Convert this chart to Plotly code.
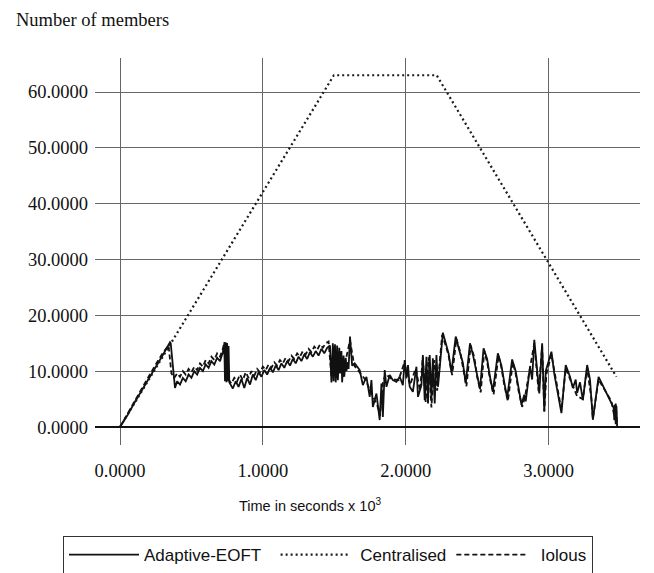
import plotly.graph_objects as go

# ---- data (time in seconds x 10^3, number of members) ----
central_x = [0.0, 1.497, 2.217, 3.475]
central_y = [0.0, 63.0, 63.0, 9.0]

eoft_x = [0.0, 0.05, 0.1, 0.15, 0.2, 0.25, 0.3, 0.35,
          0.355, 0.385, 0.40, 0.42, 0.44, 0.46, 0.48, 0.50, 0.52, 0.54, 0.56, 0.58, 0.60, 0.62, 0.64, 0.66, 0.68, 0.70, 0.72, 0.73,
          0.735, 0.74, 0.745, 0.75, 0.755, 0.76, 0.765,
          0.79, 0.81, 0.83, 0.85, 0.87, 0.89, 0.91, 0.93, 0.95, 0.97, 0.99, 1.01, 1.03, 1.05, 1.07, 1.09, 1.11, 1.13, 1.15,
          1.17, 1.19, 1.21, 1.23, 1.25, 1.27, 1.29, 1.31, 1.33, 1.35, 1.37, 1.39, 1.41, 1.43, 1.45, 1.47,
          1.48, 1.49, 1.495, 1.505, 1.51, 1.52, 1.525, 1.535, 1.54, 1.55, 1.555, 1.565, 1.57, 1.58, 1.585, 1.595, 1.60, 1.61, 1.625,
          1.643, 1.678, 1.70, 1.725, 1.748, 1.76, 1.77, 1.795, 1.818, 1.83, 1.84, 1.853, 1.865, 1.888, 1.91, 1.935, 1.958, 1.98,
          1.993, 2.005, 2.016, 2.028, 2.05, 2.075, 2.086, 2.11, 2.12, 2.133, 2.145, 2.156, 2.168, 2.18, 2.19, 2.203, 2.215, 2.226,
          2.26, 2.28, 2.30, 2.32, 2.35, 2.37, 2.40, 2.42, 2.45, 2.47, 2.50, 2.52, 2.545, 2.57, 2.59, 2.61, 2.645, 2.67, 2.69, 2.71,
          2.745, 2.77, 2.79, 2.81, 2.83, 2.84, 2.87, 2.885, 2.90, 2.92, 2.935, 2.955, 2.965, 2.97, 2.98, 3.02, 3.04, 3.06, 3.09,
          3.12, 3.15, 3.17, 3.19, 3.20, 3.22, 3.24, 3.27, 3.29, 3.31, 3.35, 3.39, 3.43, 3.455, 3.46, 3.465, 3.47, 3.475, 3.48]
eoft_y = [0.0, 2.0, 4.3, 6.4, 8.6, 10.7, 12.9, 15.2,
          15.0, 7.0, 8.2, 7.6, 8.8, 8.2, 9.4, 8.8, 10.0, 9.4, 10.6, 10.0, 11.2, 10.6, 11.8, 11.2, 12.4, 11.8, 13.4, 14.8,
          8.2, 15.2, 8.0, 15.0, 8.2, 14.5, 8.0,
          6.9, 8.2, 7.2, 8.6, 7.0, 8.8, 7.6, 9.4, 8.4, 9.8, 9.0, 10.2, 9.4, 10.6, 9.8, 11.0, 10.2, 11.4, 10.6,
          11.8, 11.0, 12.2, 11.4, 12.6, 11.8, 13.0, 12.2, 13.4, 12.6, 13.6, 12.8, 14.0, 13.2, 14.2, 14.6,
          8.0, 15.0, 8.2, 14.8, 8.0, 14.6, 8.4, 14.2, 9.6, 13.6, 8.0, 12.8, 9.0, 12.4, 10.0, 11.6, 10.4, 16.2, 11.0,
          11.4, 10.2, 7.5, 9.0, 5.4, 8.4, 3.6, 6.0, 1.25, 7.8, 1.8, 10.2, 7.2, 9.3, 8.4, 8.1, 9.0, 7.5,
          12.0, 8.7, 11.1, 7.2, 6.3, 10.8, 5.4, 7.5, 12.9, 4.8, 12.6, 4.2, 12.9, 5.1, 12.3, 4.2, 12.9, 7.2,
          16.9, 15.0, 13.2, 9.8, 16.2, 14.2, 11.5, 7.8, 15.0, 13.0, 9.5, 6.8, 14.1, 12.2, 9.0, 6.4, 13.2, 11.0, 8.0, 5.2,
          12.1, 10.0, 7.0, 4.0, 5.8, 4.6, 10.8, 8.5, 15.6, 10.5, 6.0, 15.0, 6.0, 2.8, 10.0, 13.5, 9.5, 6.5, 2.5,
          11.1, 9.0, 7.0, 8.5, 6.1, 8.0, 4.8, 11.1, 8.5, 1.3, 9.0, 7.0, 5.0, 3.5, 1.2, 4.0, 0.5, 3.8, 0.0]

iolous_x = [0.0, 0.05, 0.1, 0.15, 0.2, 0.25, 0.3, 0.34, 0.36,
            0.38, 0.40, 0.42, 0.44, 0.46, 0.48, 0.50, 0.52, 0.54, 0.56, 0.58, 0.60, 0.62, 0.64, 0.66, 0.68, 0.70, 0.72, 0.73,
            0.74, 0.75, 0.76, 0.78, 0.80, 0.82, 0.84, 0.86, 0.88, 0.90, 0.92, 0.94, 0.96, 0.98, 1.00, 1.02, 1.04, 1.06, 1.08,
            1.10, 1.12, 1.14, 1.16, 1.18, 1.20, 1.22, 1.24, 1.26, 1.28, 1.30, 1.32, 1.34, 1.36, 1.38, 1.40, 1.42, 1.44, 1.46,
            1.48, 1.50, 1.52, 1.54, 1.56, 1.58, 1.61, 1.64, 1.68, 1.72, 1.76, 1.80, 1.82, 1.84, 1.86, 1.90, 1.95, 1.99, 2.03,
            2.07, 2.10, 2.12, 2.14, 2.16, 2.18, 2.20, 2.22, 2.255,
            2.28, 2.30, 2.325, 2.355, 2.38, 2.40, 2.425, 2.455, 2.48, 2.50, 2.525, 2.55, 2.57, 2.59, 2.615, 2.65, 2.67, 2.69,
            2.715, 2.75, 2.77, 2.79, 2.815, 2.835, 2.87, 2.90, 2.93, 2.955, 2.97, 2.985, 3.02, 3.05, 3.09, 3.12, 3.16, 3.20,
            3.24, 3.27, 3.30, 3.31, 3.35, 3.40, 3.44, 3.46, 3.47, 3.48]
iolous_y = [0.0, 2.3, 4.5, 6.8, 9.0, 11.2, 13.3, 14.6, 9.6,
            8.8, 9.6, 9.0, 10.0, 9.4, 10.4, 9.8, 10.8, 10.2, 11.4, 10.8, 12.0, 11.4, 12.6, 12.0, 13.2, 12.6, 14.0, 15.2,
            9.0, 15.0, 8.5, 7.8, 8.8, 8.2, 9.4, 8.4, 9.8, 8.8, 10.0, 9.2, 10.4, 9.8, 10.8, 10.2, 11.2, 10.6, 11.6,
            11.0, 12.0, 11.4, 12.4, 11.8, 12.8, 12.2, 13.2, 12.6, 13.6, 13.0, 14.0, 13.4, 14.4, 13.8, 14.8, 14.2, 15.0, 15.3,
            9.0, 14.5, 8.5, 13.5, 9.0, 12.0, 15.5, 11.0, 9.8, 8.4, 6.0, 4.0, 2.0, 8.0, 9.5, 8.6, 8.4, 11.5, 7.5,
            10.5, 6.5, 12.5, 4.5, 12.5, 3.5, 12.0, 6.5, 16.5,
            14.6, 12.8, 9.3, 15.8, 13.6, 11.0, 7.3, 14.6, 12.5, 9.0, 6.2, 13.6, 11.6, 8.6, 5.8, 12.8, 10.6, 7.5,
            4.6, 11.6, 9.5, 6.5, 3.6, 5.4, 10.2, 15.0, 6.4, 14.5, 2.8, 9.5, 13.0, 8.5, 3.0, 10.5, 8.0, 5.5,
            5.0, 10.6, 5.0, 1.5, 8.5, 6.4, 4.6, 2.0, 4.2, 0.3]

x_ticks = [0, 1, 2, 3]
y_ticks = [0, 10, 20, 30, 40, 50, 60]
series_names = ["Adaptive-EOFT", "Centralised", "Iolous"]

NB = "\u00a0"

fig = go.Figure()
fig.add_trace(go.Scatter(x=eoft_x, y=eoft_y, mode="lines", name=series_names[0] + NB * 2,
                         line=dict(color="#111111", width=1.8)))
fig.add_trace(go.Scatter(x=central_x, y=central_y, mode="lines", name=NB + series_names[1],
                         line=dict(color="#1a1a1a", width=2.2, dash="2px,3px")))
fig.add_trace(go.Scatter(x=iolous_x, y=iolous_y, mode="lines", name=NB * 2 + series_names[2],
                         line=dict(color="#111111", width=1.8, dash="5px,3px")))

serif = "Liberation Serif, Times New Roman, serif"
sans = "Liberation Sans, Arial, sans-serif"

fig.update_layout(
    width=654, height=573,
    margin=dict(l=95, r=14, t=58, b=128, autoexpand=False),
    paper_bgcolor="white", plot_bgcolor="white",
    showlegend=True,
    legend=dict(orientation="h", x=(63 - 95) / 545, xanchor="left",
                y=-(536 - 445) / 387, yanchor="top",
                bordercolor="#333333", borderwidth=1, bgcolor="white",
                font=dict(family=sans, size=17, color="#111111"),
                itemwidth=70, tracegroupgap=0),
    xaxis=dict(range=[-0.175, 3.64], tickvals=x_ticks, tickformat=".4f",
               showgrid=True, gridcolor="#666666", gridwidth=1.2, zeroline=False,
               showline=False, ticks="", ticklabelstandoff=12,
               tickfont=dict(family=serif, size=18.5, color="#111111")),
    yaxis=dict(range=[-3.22, 66.09], tickvals=y_ticks, tickformat=".4f",
               showgrid=True, gridcolor="#666666", gridwidth=1.2,
               zeroline=True, zerolinecolor="#111111", zerolinewidth=2,
               showline=False, ticks="", ticklabelstandoff=6,
               tickfont=dict(family=serif, size=18.5, color="#111111")),
    annotations=[
        dict(text="Number of members", xref="paper", yref="paper",
             x=(14 - 95) / 545, y=(445 - 20) / 387, xanchor="left", yanchor="middle",
             showarrow=False, font=dict(family=serif, size=18.5, color="#111111")),
        dict(text="Time in seconds x 10<sup>3</sup>", xref="paper", yref="paper",
             x=(310 - 95) / 545, y=-(505 - 445) / 387, xanchor="center", yanchor="middle",
             showarrow=False, font=dict(family=sans, size=14.5, color="#111111")),
    ],
)

fig.write_html("out.html")
